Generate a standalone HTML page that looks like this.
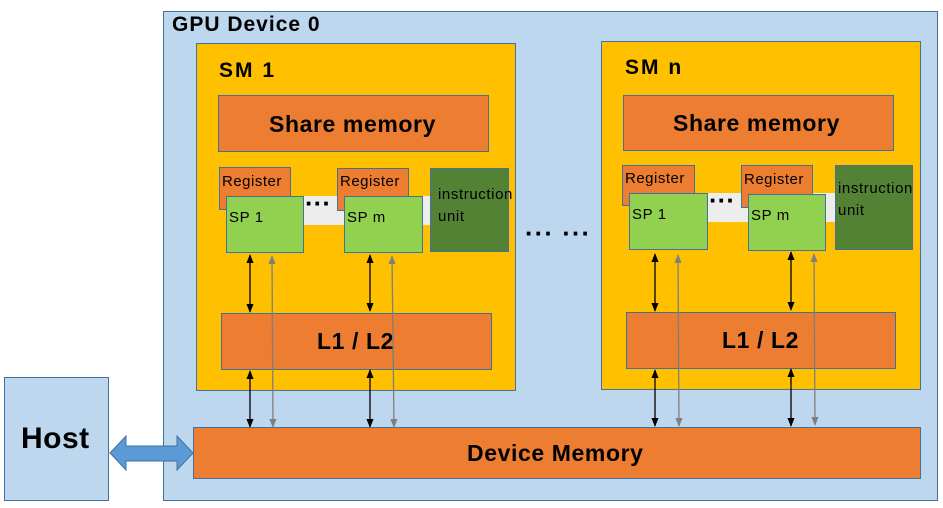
<!DOCTYPE html>
<html><head><meta charset="utf-8"><style>
body{margin:0;width:943px;height:508px;background:#fff;position:relative;overflow:hidden;font-family:"Liberation Sans","DejaVu Sans",sans-serif;}
.b{position:absolute;box-sizing:border-box;border:1px solid #41719c;}
.bl{background:#bdd7ee}.y{background:#ffc000}.o{background:#ed7d31}.g{background:#92d050}.dg{background:#548235}.gr{background:#ededed;border:none}
.t{position:absolute;color:#000;white-space:nowrap}
.r{font-size:15px;letter-spacing:0.5px}
.s{font-size:15px;letter-spacing:0.6px}
.h{font-size:23px;font-weight:bold;letter-spacing:0.6px}
</style></head><body>
<div class="b bl" style="left:163px;top:11px;width:775px;height:490px"></div>
<div class="t" style="left:172px;top:13px;font-size:21px;font-weight:bold;letter-spacing:1px">GPU Device 0</div>
<div class="b bl" style="left:4px;top:377px;width:105px;height:124px"></div>
<div class="t" style="left:21px;top:422px;font-size:30px;font-weight:bold;letter-spacing:0.5px">Host</div>
<div class="b o" style="left:193px;top:427px;width:728px;height:52px"></div>
<div class="t h" style="left:467px;top:440px">Device Memory</div>

<!-- SM1 -->
<div class="b y" style="left:196px;top:43px;width:320px;height:348px"></div>
<div class="t" style="left:219px;top:59px;font-size:21px;font-weight:bold;letter-spacing:2px">SM 1</div>
<div class="b o" style="left:218px;top:95px;width:271px;height:57px"></div>
<div class="t h" style="left:269px;top:111px">Share memory</div>
<div class="b o" style="left:219px;top:167px;width:72px;height:43px"></div>
<div class="t r" style="left:222px;top:173px">Register</div>
<div class="b gr" style="left:303px;top:196px;width:128px;height:29px"></div>
<div class="t" style="left:305px;top:188px;font-size:26px;font-weight:bold">···</div>
<div class="b o" style="left:337px;top:168px;width:72px;height:43px"></div>
<div class="t r" style="left:340px;top:173px">Register</div>
<div class="b g" style="left:226px;top:196px;width:78px;height:57px"></div>
<div class="t s" style="left:229px;top:209px">SP 1</div>
<div class="b g" style="left:344px;top:196px;width:79px;height:57px"></div>
<div class="t s" style="left:347px;top:209px">SP m</div>
<div class="b dg" style="left:430px;top:168px;width:79px;height:84px"></div>
<div class="t s" style="left:438px;top:184px;line-height:22px">instruction<br>unit</div>
<div class="b o" style="left:221px;top:313px;width:271px;height:57px"></div>
<div class="t h" style="left:317px;top:328px">L1 / L2</div>

<!-- SMn -->
<div class="b y" style="left:601px;top:41px;width:320px;height:349px"></div>
<div class="t" style="left:625px;top:56px;font-size:21px;font-weight:bold;letter-spacing:2px">SM n</div>
<div class="b o" style="left:623px;top:95px;width:271px;height:56px"></div>
<div class="t h" style="left:673px;top:110px">Share memory</div>
<div class="b o" style="left:622px;top:165px;width:73px;height:41px"></div>
<div class="t r" style="left:625px;top:170px">Register</div>
<div class="b gr" style="left:707px;top:193px;width:128px;height:29px"></div>
<div class="t" style="left:709px;top:185px;font-size:26px;font-weight:bold">···</div>
<div class="b o" style="left:741px;top:165px;width:72px;height:43px"></div>
<div class="t r" style="left:744px;top:171px">Register</div>
<div class="b g" style="left:629px;top:193px;width:79px;height:57px"></div>
<div class="t s" style="left:632px;top:206px">SP 1</div>
<div class="b g" style="left:748px;top:194px;width:78px;height:57px"></div>
<div class="t s" style="left:751px;top:207px">SP m</div>
<div class="b dg" style="left:835px;top:165px;width:78px;height:85px"></div>
<div class="t s" style="left:838px;top:178px;line-height:22px">instruction<br>unit</div>
<div class="b o" style="left:626px;top:312px;width:270px;height:57px"></div>
<div class="t h" style="left:722px;top:327px">L1 / L2</div>

<div class="t" style="left:525px;top:218px;font-size:26px;font-weight:bold;letter-spacing:1px">··· ···</div>

<svg width="943" height="508" style="position:absolute;left:0;top:0">
<defs>
<marker id="a" viewBox="0 0 10 10" refX="9" refY="5" markerWidth="7" markerHeight="7" orient="auto-start-reverse"><path d="M0 1L10 5L0 9z" fill="#000"/></marker>
<marker id="ga" viewBox="0 0 10 10" refX="9" refY="5" markerWidth="7" markerHeight="7" orient="auto-start-reverse"><path d="M0 1L10 5L0 9z" fill="#7f7f7f"/></marker>
</defs>
<g stroke="#000" stroke-width="1.3" marker-start="url(#a)" marker-end="url(#a)">
<line x1="250" y1="255" x2="250" y2="312"/><line x1="250" y1="371" x2="250" y2="427"/>
<line x1="370" y1="255" x2="370" y2="311"/><line x1="370" y1="370" x2="370" y2="427"/>
<line x1="655" y1="254" x2="655" y2="311"/><line x1="655" y1="370" x2="655" y2="426"/>
<line x1="791" y1="252" x2="791" y2="310"/><line x1="791" y1="369" x2="791" y2="426"/>
</g>
<g stroke="#7f7f7f" stroke-width="1.3" marker-start="url(#ga)" marker-end="url(#ga)">
<line x1="272" y1="256" x2="273" y2="427"/>
<line x1="392" y1="256" x2="394" y2="427"/>
<line x1="678" y1="255" x2="679" y2="426"/>
<line x1="814" y1="254" x2="815" y2="425"/>
</g>
<path d="M110 453L126 436L126 446L177 446L177 436L193 453L177 470L177 461L126 461L126 470Z" fill="#5b9bd5" stroke="#41719c" stroke-width="1"/>
</svg>
</body></html>
